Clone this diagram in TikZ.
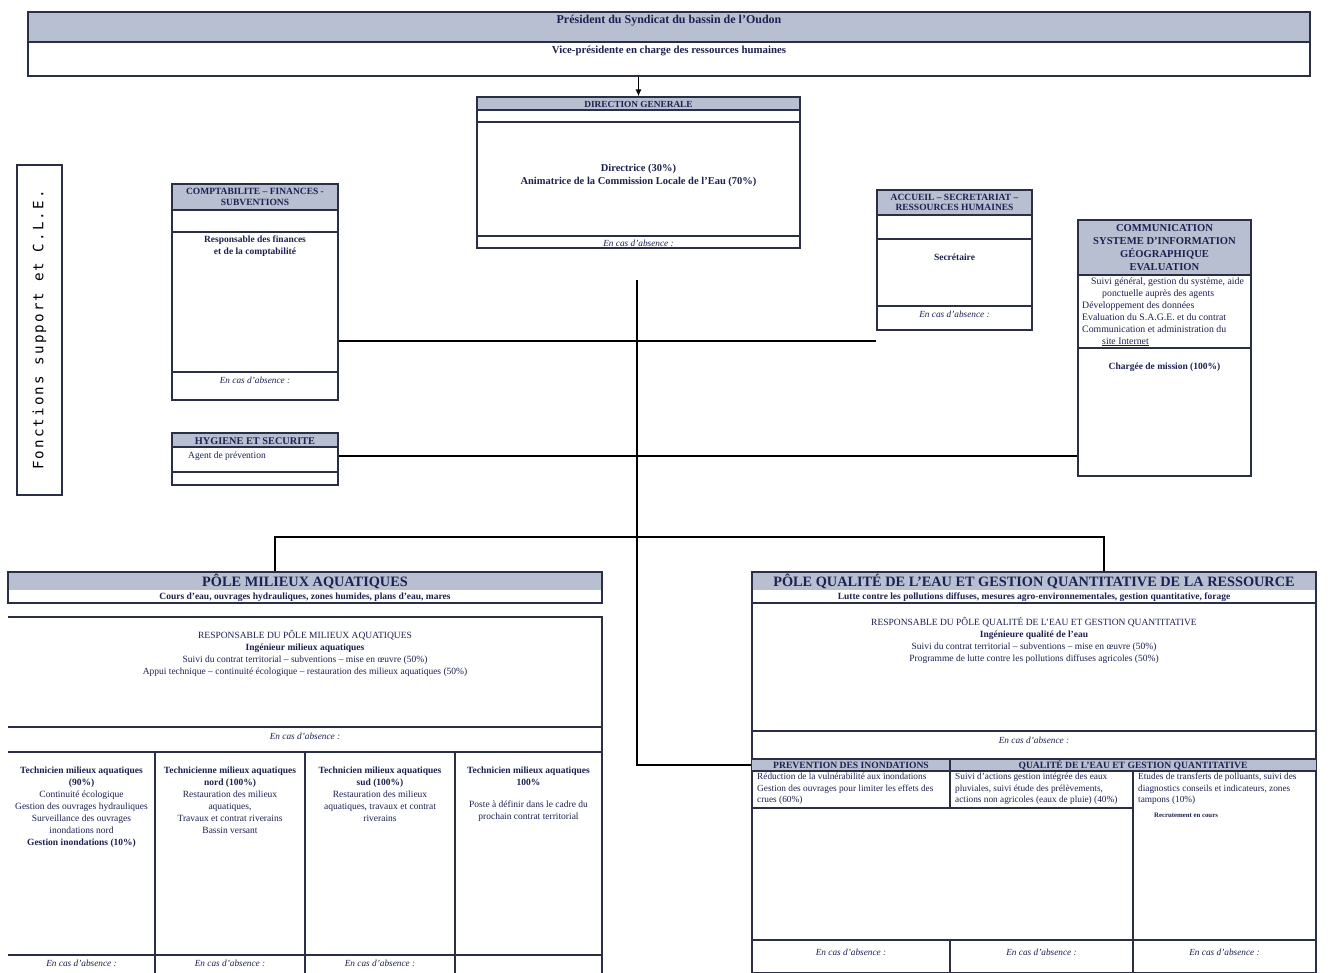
\documentclass[tikz,border=0pt]{standalone}
\usepackage{fontspec}
\setmainfont{Liberation Serif}
\newfontfamily\sidefont[LetterSpace=15]{DejaVu Sans Mono}
\usetikzlibrary{fit,arrows.meta}
\definecolor{hdrfill}{HTML}{B8BFD0}
\definecolor{ink}{HTML}{1C2150}
\definecolor{linec}{HTML}{2B2F45}
\begin{document}
\begin{tikzpicture}[x=1pt,y=-1pt,
  frame/.style={draw=linec, line width=1.2pt, inner sep=0pt},
  hdr/.style={fill=hdrfill},
  sep/.style={draw=linec, line width=1.1pt},
  conn/.style={draw=black, line width=1.3pt},
  t/.style={inner sep=0pt, text=ink, font=\fontsize{9.5}{12}\selectfont, align=center},
  tb/.style={t, font=\fontsize{9.5}{12}\selectfont\bfseries},
  ti/.style={t, font=\fontsize{9.3}{12}\selectfont\itshape},
  th/.style={t, font=\fontsize{9.5}{10.5}\selectfont\bfseries},
  tp/.style={t, font=\fontsize{14.3}{16}\selectfont\bfseries},
]
\useasboundingbox[fill=white] (0,0) rectangle (1330,973);

% President
\fill[hdr] (28,12) rectangle (1310,42);
\node[frame, fit={(28,12)(1310,76)}] (pres) {};
\draw[sep] (28,42) -- (1310,42);
\node[tb, font=\fontsize{12}{13}\selectfont\bfseries] (prestxt) at (669,21) {Président du Syndicat du bassin de l'Oudon};
\node[tb, font=\fontsize{10.8}{12}\selectfont\bfseries] (vp) at (669,51) {Vice-présidente en charge des ressources humaines};

% Direction generale
\fill[hdr] (477,97) rectangle (800,110);
\node[frame, fit={(477,97)(800,248)}] (dg) {};
\draw[sep] (477,110) -- (800,110);
\draw[sep] (477,122) -- (800,122);
\draw[sep] (477,236) -- (800,236);
\node[th, font=\fontsize{9.3}{10}\selectfont\bfseries] (dgh) at (638.5,104) {DIRECTION GENERALE};
\node[tb, font=\fontsize{10.5}{13}\selectfont\bfseries] (dgt) at (638.5,175) {Directrice (30\%)\\Animatrice de la Commission Locale de l'Eau (70\%)};
\node[ti] (dga) at (638.5,243) {En cas d'absence :};
\draw[conn, line width=1.6pt, -{Latex[length=7pt,width=6pt]}] (pres.south -| dg.north) -- (dg.north);

% Side label
\node[frame, fit={(17,165)(62,495)}] (side) {};
\node[inner sep=0pt, rotate=90, font=\sidefont\fontsize{14.2}{16}\selectfont] (sidet) at (side.center) {Fonctions support et C.L.E.};

% Comptabilite
\fill[hdr] (172,184) rectangle (338,210);
\node[frame, fit={(172,184)(338,400)}] (compt) {};
\draw[sep] (172,210) -- (338,210);
\draw[sep] (172,232) -- (338,232);
\draw[sep] (172,372) -- (338,372);
\node[th] (compth) at (255,197) {COMPTABILITE – FINANCES -\\SUBVENTIONS};
\node[tb] (comptt) at (255,246) {Responsable des finances\\et de la comptabilité};
\node[ti] (compta) at (255,380) {En cas d'absence :};

% Hygiene
\fill[hdr] (172,433) rectangle (338,447);
\node[frame, fit={(172,433)(338,485)}] (hyg) {};
\draw[sep] (172,447) -- (338,447);
\draw[sep] (172,472) -- (338,472);
\node[th, font=\fontsize{10.3}{11}\selectfont\bfseries] (hygh) at (255,441) {HYGIENE ET SECURITE};
\node[t, anchor=west] (hygt) at (188,456) {Agent de prévention};

% Accueil
\fill[hdr] (877,190) rectangle (1032,215);
\node[frame, fit={(877,190)(1032,330)}] (acc) {};
\draw[sep] (877,215) -- (1032,215);
\draw[sep] (877,239) -- (1032,239);
\draw[sep] (877,306) -- (1032,306);
\node[th] (acch) at (954.5,202.5) {ACCUEIL – SECRETARIAT –\\RESSOURCES HUMAINES};
\node[tb] (acct) at (954.5,257) {Secrétaire};
\node[ti] (acca) at (954.5,314) {En cas d'absence :};

% Communication
\fill[hdr] (1078,220) rectangle (1251,275);
\node[frame, fit={(1078,220)(1251,476)}] (comm) {};
\draw[sep] (1078,275) -- (1251,275);
\draw[sep] (1078,348) -- (1251,348);
\node[th, font=\fontsize{10.6}{13}\selectfont\bfseries] (commh) at (1164.5,247.5) {COMMUNICATION\\SYSTEME D'INFORMATION\\GÉOGRAPHIQUE\\EVALUATION};
\node[t, font=\fontsize{9.8}{12}\selectfont, align=left, anchor=north west] (commt) at (1082,277) {\hspace*{9pt}Suivi général, gestion du système, aide\\\hspace*{20pt}ponctuelle auprès des agents\\Développement des données\\Evaluation du S.A.G.E. et du contrat\\Communication et administration du\\\hspace*{20pt}\underline{site Internet}};
\node[tb] (commm) at (1164.5,367) {Chargée de mission (100\%)};

% Connectors
\coordinate (trunk) at (637,280);
\draw[conn] (compt.east |- 0,341) -- (acc.west |- 0,341);
\draw[conn] (hyg.east |- 0,456) -- (comm.west |- 0,456);

% Pole milieux aquatiques
\fill[hdr] (8,572) rectangle (602,590);
\node[frame, fit={(8,572)(602,603)}] (lpole) {};
\node[tp] (lpoleh) at (305,581.5) {PÔLE MILIEUX AQUATIQUES};
\node[tb, font=\fontsize{9.5}{10}\selectfont\bfseries] (lpoles) at (305,597) {Cours d'eau, ouvrages hydrauliques, zones humides, plans d'eau, mares};
\draw[sep] (8,617) -- (602,617) -- (602,973);
\draw[sep] (8,727) -- (602,727);
\draw[sep] (8,752) -- (602,752);
\draw[sep] (155,752) -- (155,973);
\draw[sep] (305,752) -- (305,973);
\draw[sep] (455,752) -- (455,973);
\draw[sep] (8,955) -- (602,955);
\node[t, anchor=north] (lresp) at (305,630) {RESPONSABLE DU PÔLE MILIEUX AQUATIQUES\\\textbf{Ingénieur milieux aquatiques}\\Suivi du contrat territorial – subventions – mise en œuvre (50\%)\\Appui technique – continuité écologique – restauration des milieux aquatiques (50\%)};
\node[ti] (labs) at (305,736) {En cas d'absence :};
\node[t, anchor=north] (tech1) at (81.5,767) {\textbf{Technicien milieux aquatiques}\\\textbf{(90\%)}\\Continuité écologique\\Gestion des ouvrages hydrauliques\\Surveillance des ouvrages\\inondations nord\\\textbf{Gestion inondations (10\%)}};
\node[t, anchor=north] (tech2) at (230,767) {\textbf{Technicienne milieux aquatiques}\\\textbf{nord (100\%)}\\Restauration des milieux\\aquatiques,\\Travaux et contrat riverains\\Bassin versant};
\node[t, anchor=north] (tech3) at (380,767) {\textbf{Technicien milieux aquatiques}\\\textbf{sud (100\%)}\\Restauration des milieux\\aquatiques, travaux et contrat\\riverains};
\node[t, anchor=north] (tech4) at (528.5,767) {\textbf{Technicien milieux aquatiques}\\\textbf{100\%}\\[10pt]Poste à définir dans le cadre du\\prochain contrat territorial};
\node[ti] (a1) at (81.5,963) {En cas d'absence :};
\node[ti] (a2) at (230,963) {En cas d'absence :};
\node[ti] (a3) at (380,963) {En cas d'absence :};

% Pole qualite
\fill[hdr] (752,572) rectangle (1316,590);
\node[frame, fit={(752,572)(1316,973)}] (rpole) {};
\draw[sep] (752,603) -- (1316,603);
\node[tp] (rpoleh) at (1034,581.5) {PÔLE QUALITÉ DE L'EAU ET GESTION QUANTITATIVE DE LA RESSOURCE};
\node[tb, font=\fontsize{9.5}{10}\selectfont\bfseries] (rpoles) at (1034,597) {Lutte contre les pollutions diffuses, mesures agro-environnementales, gestion quantitative, forage};
\node[t, anchor=north] (rresp) at (1034,617) {RESPONSABLE DU PÔLE QUALITÉ DE L'EAU ET GESTION QUANTITATIVE\\\textbf{Ingénieure qualité de l'eau}\\Suivi du contrat territorial – subventions – mise en œuvre (50\%)\\Programme de lutte contre les pollutions diffuses agricoles (50\%)};
\draw[sep] (752,731) -- (1316,731);
\node[ti] (rabs) at (1034,740) {En cas d'absence :};
\fill[hdr] (752,759) rectangle (1316,771);
\draw[sep] (752,759) -- (1316,759);
\draw[sep] (752,771) -- (1316,771);
\draw[sep] (950,759) -- (950,808);
\draw[sep] (1133,771) -- (1133,973);
\draw[sep] (752,808) -- (1133,808);
\draw[sep] (752,940) -- (1316,940);
\draw[sep] (950,940) -- (950,973);
\node[th, font=\fontsize{9.6}{10}\selectfont\bfseries] (prevh) at (851,765.5) {PREVENTION DES INONDATIONS};
\node[th, font=\fontsize{9.6}{10}\selectfont\bfseries] (qualh) at (1133,765.5) {QUALITÉ DE L'EAU ET GESTION QUANTITATIVE};
\node[t, font=\fontsize{9.3}{11.5}\selectfont, align=left, anchor=north west] (prevt) at (757,773) {Réduction de la vulnérabilité aux inondations\\Gestion des ouvrages pour limiter les effets des\\crues (60\%)};
\node[t, font=\fontsize{9.3}{11.5}\selectfont, align=left, anchor=north west] (qualt) at (955,773) {Suivi d'actions gestion intégrée des eaux\\pluviales, suivi étude des prélèvements,\\actions non agricoles (eaux de pluie) (40\%)};
\node[t, font=\fontsize{9.3}{11.5}\selectfont, align=left, anchor=north west] (transt) at (1138,773) {Etudes de transferts de polluants, suivi des\\diagnostics conseils et indicateurs, zones\\tampons (10\%)};
\node[tb, font=\fontsize{6.8}{9}\selectfont\bfseries] (recr) at (1186,815) {Recrutement en cours};
\node[ti] (r1) at (851,952) {En cas d'absence :};
\node[ti] (r2) at (1041.5,952) {En cas d'absence :};
\node[ti] (r3) at (1224.5,952) {En cas d'absence :};

% Pole connectors
\draw[conn] (trunk) |- (rpole.west |- 0,765);
\draw[conn] (lpole.north -| 275,0) -- (275,537) -- (1104,537) -- (rpole.north -| 1104,0);
\end{tikzpicture}
\end{document}
